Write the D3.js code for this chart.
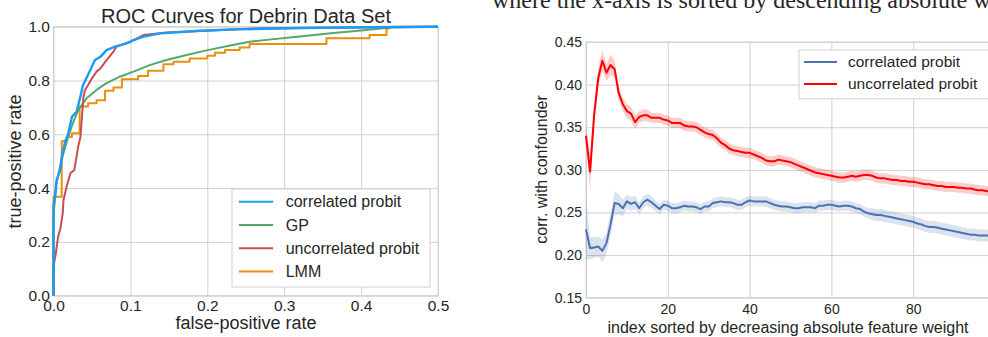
<!DOCTYPE html>
<html>
<head>
<meta charset="utf-8">
<script src="https://d3js.org/d3.v7.min.js"></script>
<style>
body { margin: 0; background: #fff; }
svg { display: block; }
text { font-family: "Liberation Sans", Arial, sans-serif; fill: #262626; }
</style>
</head>
<body>
<svg width="988" height="337"></svg>
<script>
// ROC panel data (false-positive rate / true-positive rate)
var rocNames = ['correlated probit', 'GP', 'uncorrelated probit', 'LMM'];
var rocColors = ['#1a9cf4', '#55a868', '#c44e52', '#e98f0c'];

var corrFpr = [0, 0, 0.002, 0.004, 0.009, 0.011, 0.015, 0.019, 0.024, 0.030, 0.035, 0.038, 0.043, 0.048, 0.054, 0.061, 0.069, 0.080, 0.095, 0.104, 0.117, 0.139, 0.19, 0.234, 0.32, 0.407, 0.5];
var corrTpr = [0, 0.33, 0.37, 0.43, 0.47, 0.52, 0.57, 0.60, 0.665, 0.684, 0.74, 0.78, 0.81, 0.84, 0.876, 0.888, 0.913, 0.926, 0.938, 0.95, 0.963, 0.975, 0.985, 0.99, 0.995, 0.998, 1.0];

var gpFpr = [0, 0, 0.004, 0.01, 0.018, 0.025, 0.032, 0.043, 0.056, 0.069, 0.087, 0.104, 0.125, 0.147, 0.169, 0.199, 0.233, 0.255, 0.277, 0.32, 0.364, 0.407, 0.44, 0.5];
var gpTpr = [0, 0.30, 0.42, 0.50, 0.58, 0.64, 0.69, 0.734, 0.765, 0.79, 0.815, 0.833, 0.857, 0.876, 0.892, 0.912, 0.932, 0.944, 0.951, 0.964, 0.977, 0.988, 0.998, 1.0];

var uncorrFpr = [0, 0, 0.003, 0.006, 0.009, 0.012, 0.013, 0.017, 0.022, 0.027, 0.030, 0.032, 0.035, 0.037, 0.039, 0.041, 0.045, 0.050, 0.056, 0.061, 0.069, 0.078, 0.082, 0.1, 0.117, 0.147, 0.199, 0.26, 0.5];
var uncorrTpr = [0, 0.108, 0.157, 0.22, 0.25, 0.306, 0.356, 0.405, 0.455, 0.467, 0.517, 0.554, 0.59, 0.665, 0.74, 0.765, 0.783, 0.808, 0.833, 0.845, 0.876, 0.907, 0.926, 0.944, 0.969, 0.978, 0.985, 0.993, 1.0];

var lmmFpr = [0, 0, 0.0107, 0.0107, 0.017, 0.017, 0.024, 0.024, 0.034, 0.034, 0.045, 0.045, 0.056, 0.056, 0.067, 0.067, 0.078, 0.078, 0.089, 0.089, 0.110, 0.110, 0.123, 0.123, 0.143, 0.143, 0.156, 0.156, 0.177, 0.177, 0.200, 0.200, 0.210, 0.210, 0.223, 0.223, 0.242, 0.242, 0.255, 0.255, 0.355, 0.355, 0.411, 0.411, 0.433, 0.433, 0.44, 0.5];
var lmmTpr = [0, 0.368, 0.368, 0.573, 0.579, 0.59, 0.59, 0.604, 0.604, 0.703, 0.703, 0.715, 0.715, 0.727, 0.727, 0.762, 0.762, 0.774, 0.774, 0.805, 0.805, 0.817, 0.817, 0.836, 0.836, 0.860, 0.860, 0.870, 0.870, 0.882, 0.882, 0.892, 0.892, 0.903, 0.903, 0.913, 0.913, 0.923, 0.923, 0.936, 0.936, 0.957, 0.957, 0.969, 0.969, 0.99, 1.0, 1.0];

var rocXTicks = [0, 0.1, 0.2, 0.3, 0.4, 0.5];
var rocYTicks = [0, 0.2, 0.4, 0.6, 0.8, 1.0];

// confounder panel data, one value per feature index
var corrNames = ['correlated probit', 'uncorrelated probit'];
var corrColors = ['#4c72b0', '#ff0000'];
var corrMean = [0.230, 0.208, 0.209, 0.210, 0.205, 0.214, 0.236, 0.261, 0.260, 0.255,
  0.263, 0.260, 0.262, 0.255, 0.262, 0.265, 0.262, 0.258, 0.254, 0.259,
  0.258, 0.255, 0.255, 0.256, 0.258, 0.257, 0.257, 0.256, 0.254, 0.257,
  0.257, 0.261, 0.262, 0.263, 0.262, 0.262, 0.261, 0.259, 0.259, 0.262,
  0.264, 0.263, 0.263, 0.263, 0.263, 0.261, 0.259, 0.258, 0.257, 0.257,
  0.256, 0.255, 0.255, 0.256, 0.256, 0.256, 0.255, 0.258, 0.258, 0.259,
  0.259, 0.258, 0.257, 0.258, 0.258, 0.257, 0.255, 0.254, 0.251, 0.249,
  0.248, 0.247, 0.247, 0.246, 0.245, 0.244, 0.243, 0.242, 0.241, 0.240,
  0.239, 0.237, 0.236, 0.234, 0.233, 0.233, 0.232, 0.231, 0.230, 0.229,
  0.228, 0.227, 0.226, 0.225, 0.224, 0.224, 0.223, 0.223, 0.223, 0.222];
var corrErr = [0.035, 0.013, 0.012, 0.012, 0.013, 0.012, 0.013, 0.014, 0.012, 0.010,
  0.008, 0.008, 0.008, 0.007, 0.007, 0.007, 0.007, 0.006, 0.006, 0.006,
  0.006, 0.006, 0.006, 0.006, 0.006, 0.006, 0.006, 0.006, 0.006, 0.006,
  0.006, 0.006, 0.006, 0.006, 0.006, 0.006, 0.006, 0.006, 0.006, 0.006,
  0.006, 0.006, 0.006, 0.006, 0.006, 0.006, 0.006, 0.006, 0.006, 0.006,
  0.006, 0.006, 0.006, 0.006, 0.006, 0.006, 0.006, 0.006, 0.006, 0.006,
  0.006, 0.006, 0.006, 0.006, 0.006, 0.006, 0.006, 0.006, 0.006, 0.006,
  0.007, 0.007, 0.007, 0.007, 0.007, 0.007, 0.007, 0.007, 0.007, 0.007,
  0.007, 0.007, 0.007, 0.007, 0.007, 0.007, 0.007, 0.007, 0.007, 0.007,
  0.007, 0.007, 0.007, 0.007, 0.007, 0.007, 0.007, 0.007, 0.007, 0.007];
var uncorrMean = [0.340, 0.298, 0.365, 0.408, 0.428, 0.414, 0.423, 0.418, 0.390, 0.377,
  0.369, 0.366, 0.356, 0.362, 0.364, 0.364, 0.361, 0.361, 0.361, 0.359,
  0.358, 0.355, 0.355, 0.355, 0.352, 0.351, 0.351, 0.350, 0.347, 0.344,
  0.342, 0.341, 0.337, 0.332, 0.329, 0.325, 0.323, 0.322, 0.321, 0.320,
  0.320, 0.318, 0.316, 0.314, 0.311, 0.310, 0.310, 0.312, 0.311, 0.310,
  0.309, 0.307, 0.305, 0.303, 0.301, 0.299, 0.297, 0.296, 0.295, 0.294,
  0.293, 0.292, 0.291, 0.291, 0.292, 0.293, 0.292, 0.293, 0.294, 0.294,
  0.293, 0.291, 0.290, 0.290, 0.289, 0.288, 0.288, 0.287, 0.287, 0.286,
  0.286, 0.285, 0.284, 0.283, 0.283, 0.282, 0.281, 0.281, 0.280, 0.280,
  0.280, 0.279, 0.279, 0.278, 0.278, 0.277, 0.276, 0.276, 0.275, 0.275];
var uncorrErr = [0.010, 0.020, 0.012, 0.012, 0.012, 0.010, 0.012, 0.010, 0.008, 0.008,
  0.008, 0.008, 0.008, 0.007, 0.007, 0.007, 0.006, 0.006, 0.006, 0.006,
  0.006, 0.006, 0.006, 0.006, 0.006, 0.006, 0.006, 0.006, 0.006, 0.006,
  0.006, 0.006, 0.006, 0.006, 0.006, 0.006, 0.006, 0.006, 0.006, 0.006,
  0.006, 0.006, 0.006, 0.006, 0.006, 0.006, 0.006, 0.006, 0.006, 0.006,
  0.006, 0.006, 0.006, 0.006, 0.006, 0.006, 0.006, 0.006, 0.006, 0.006,
  0.006, 0.006, 0.006, 0.006, 0.006, 0.006, 0.006, 0.006, 0.006, 0.006,
  0.006, 0.006, 0.006, 0.006, 0.006, 0.006, 0.006, 0.006, 0.006, 0.006,
  0.006, 0.006, 0.006, 0.006, 0.006, 0.006, 0.006, 0.006, 0.006, 0.006,
  0.006, 0.006, 0.006, 0.006, 0.006, 0.006, 0.006, 0.006, 0.006, 0.006];

// only these ticks fall inside the visible part of the panel
var idxTicks = [0, 20, 40, 60, 80];
var confTicks = [0.15, 0.20, 0.25, 0.30, 0.35, 0.40, 0.45];

var svg = d3.select('svg');
var gridColor = '#d0d0d0';

function styleAxis(g, size){
	g.select('.domain').remove();
	g.selectAll('.tick line').attr('stroke', gridColor).attr('stroke-width', 1);
	g.selectAll('.tick text').style('font-size', size + 'px').attr('fill', '#262626');
}

// ---------- left: ROC curves ----------
var x1 = d3.scaleLinear().domain([0, 0.5]).range([53.5, 438]),
	y1 = d3.scaleLinear().domain([0, 1]).range([295.7, 26.7]);
var left = svg.append('g');

left.append('g').attr('transform', 'translate(0,295.7)')
	.call(d3.axisBottom(x1).tickValues(rocXTicks).tickFormat(d3.format('.1f')).tickSize(-(295.7 - 26.7)).tickPadding(4))
	.call(styleAxis, 15.5);
left.append('g').attr('transform', 'translate(53.5,0)')
	.call(d3.axisLeft(y1).tickValues(rocYTicks).tickFormat(d3.format('.1f')).tickSize(-(438 - 53.5)).tickPadding(3.5))
	.call(styleAxis, 15.5);
left.append('rect').attr('x', 53.5).attr('y', 26.7).attr('width', 438 - 53.5).attr('height', 295.7 - 26.7)
	.attr('fill', 'none').attr('stroke', gridColor);

var rocSeries = [
	{fpr: corrFpr, tpr: corrTpr},
	{fpr: gpFpr, tpr: gpTpr},
	{fpr: uncorrFpr, tpr: uncorrTpr},
	{fpr: lmmFpr, tpr: lmmTpr}
];
var rocLine = d3.line().x(function(d){ return x1(d[0]); }).y(function(d){ return y1(d[1]); });
// draw so that correlated probit ends up on top
[3, 1, 2, 0].forEach(function(i){
	var s = rocSeries[i];
	left.append('path')
		.datum(s.fpr.map(function(f, j){ return [f, s.tpr[j]]; }))
		.attr('d', rocLine)
		.attr('fill', 'none')
		.attr('stroke', rocColors[i])
		.attr('stroke-width', i === 0 ? 2.4 : 2)
		.attr('stroke-linejoin', 'round');
});

left.append('text').attr('x', 246).attr('y', 22.5).attr('text-anchor', 'middle')
	.style('font-size', '20px').text('ROC Curves for Debrin Data Set');
left.append('text').attr('x', 246).attr('y', 329).attr('text-anchor', 'middle')
	.style('font-size', '18px').text('false-positive rate');
left.append('text').attr('transform', 'translate(21,161.5)rotate(-90)').attr('text-anchor', 'middle')
	.style('font-size', '18px').text('true-positive rate');

var leg1 = left.append('g');
leg1.append('rect').attr('x', 232).attr('y', 189).attr('width', 198).attr('height', 98)
	.attr('fill', '#fff').attr('stroke', gridColor);
rocNames.forEach(function(name, i){
	var yy = 201.7 + i * 23.3;
	leg1.append('line').attr('x1', 239).attr('x2', 273).attr('y1', yy).attr('y2', yy)
		.attr('stroke', rocColors[i]).attr('stroke-width', 2);
	leg1.append('text').attr('x', 285.7).attr('y', yy).attr('dy', '0.35em')
		.style('font-size', '16px').text(name);
});

// ---------- right: correlation with confounder ----------
var x2 = d3.scaleLinear().domain([0, 100]).range([586, 995]),
	y2 = d3.scaleLinear().domain([0.15, 0.45]).range([297.7, 42]);
var right = svg.append('g');

right.append('g').attr('transform', 'translate(0,297.7)')
	.call(d3.axisBottom(x2).tickValues(idxTicks).tickFormat(d3.format('d')).tickSize(-(297.7 - 42)).tickPadding(6))
	.call(styleAxis, 14);
right.append('g').attr('transform', 'translate(586,0)')
	.call(d3.axisLeft(y2).tickValues(confTicks).tickFormat(d3.format('.2f')).tickSize(-(995 - 586)).tickPadding(4))
	.call(styleAxis, 14);
right.append('rect').attr('x', 586).attr('y', 42).attr('width', 995 - 586).attr('height', 297.7 - 42)
	.attr('fill', 'none').attr('stroke', gridColor);

var confSeries = [
	{mean: corrMean, err: corrErr},
	{mean: uncorrMean, err: uncorrErr}
];
var band = d3.area()
	.x(function(d, i){ return x2(i); })
	.y0(function(d){ return y2(d[0] - d[1]); })
	.y1(function(d){ return y2(d[0] + d[1]); });
var meanLine = d3.line()
	.x(function(d, i){ return x2(i); })
	.y(function(d){ return y2(d[0]); });

confSeries.forEach(function(s, k){
	var pts = s.mean.map(function(m, i){ return [m, s.err[i]]; });
	right.append('path').datum(pts).attr('d', band)
		.attr('fill', corrColors[k]).attr('fill-opacity', 0.2);
	right.append('path').datum(pts).attr('d', meanLine)
		.attr('fill', 'none').attr('stroke', corrColors[k]).attr('stroke-width', 2)
		.attr('stroke-linejoin', 'round');
});

right.append('text').attr('x', 788).attr('y', 333).attr('text-anchor', 'middle')
	.style('font-size', '16px').text('index sorted by decreasing absolute feature weight');
right.append('text').attr('transform', 'translate(546.5,169.5)rotate(-90)').attr('text-anchor', 'middle')
	.style('font-size', '16px').text('corr. with confounder');

var leg2 = right.append('g');
leg2.append('rect').attr('x', 799).attr('y', 50).attr('width', 200).attr('height', 48.7)
	.attr('fill', '#fff').attr('stroke', gridColor);
corrNames.forEach(function(name, i){
	var yy = 62 + i * 22;
	leg2.append('line').attr('x1', 804).attr('x2', 837).attr('y1', yy).attr('y2', yy)
		.attr('stroke', corrColors[i]).attr('stroke-width', 2);
	leg2.append('text').attr('x', 848).attr('y', yy).attr('dy', '0.35em')
		.style('font-size', '15.5px').text(name);
});

// caption line of the surrounding page, cut off at the top edge
svg.append('text').attr('x', 492).attr('y', 7.5)
	.style('font-family', '"Liberation Serif", "Times New Roman", serif').style('font-size', '24px').attr('fill', '#111')
	.text('where the x-axis is sorted by descending absolute weight');
</script>
</body>
</html>
